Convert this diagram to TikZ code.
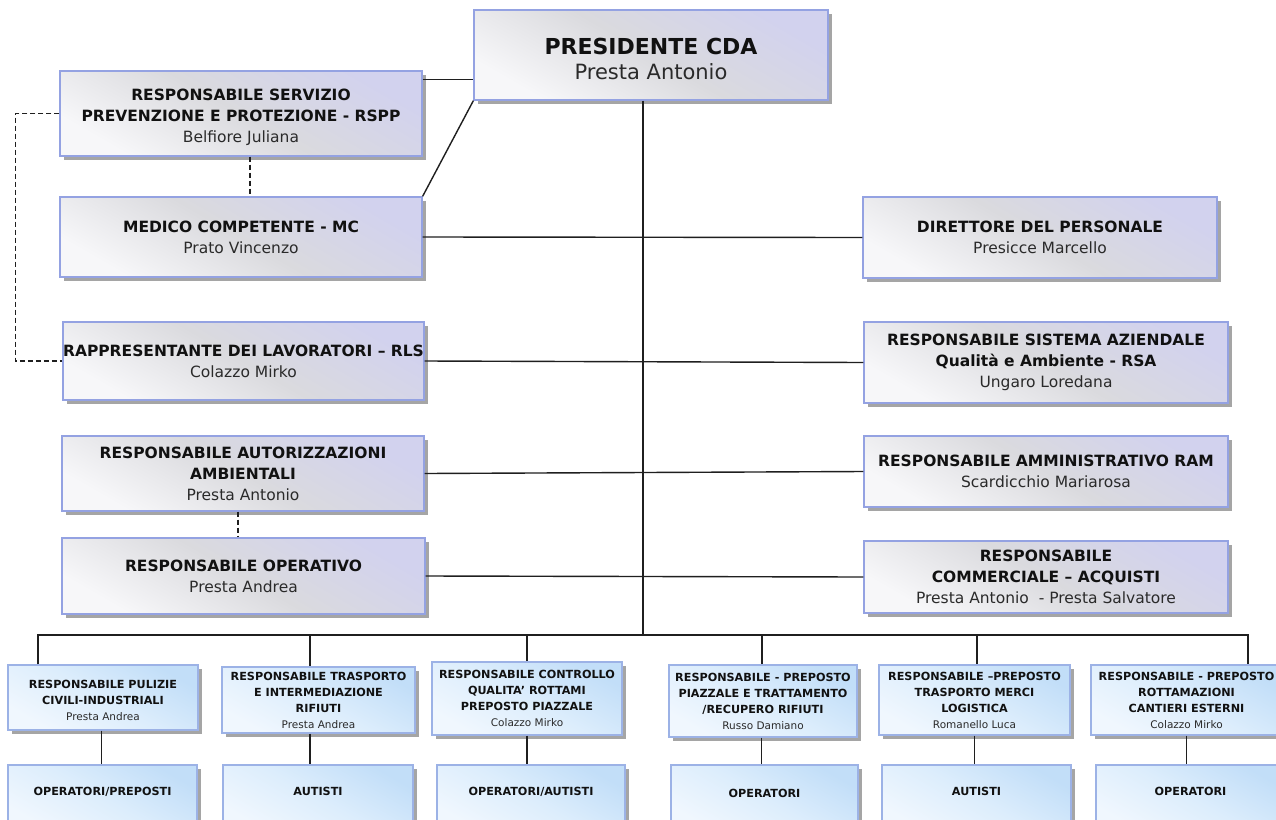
\documentclass[tikz,border=0pt]{standalone}
\usepackage{fontspec}
\setmainfont{DejaVu Sans}
\usetikzlibrary{shadows,calc}
\definecolor{lav}{HTML}{D2D2EE}
\definecolor{midg}{HTML}{DADADE}
\definecolor{lite}{HTML}{F7F7F9}
\definecolor{bord}{HTML}{94A2E2}
\definecolor{blueA}{HTML}{C2DEF8}
\definecolor{blueB}{HTML}{DCEDFC}
\definecolor{blueC}{HTML}{F0F7FE}
\definecolor{bordb}{HTML}{9CB2E6}
\definecolor{txt}{HTML}{111111}
\definecolor{nametxt}{HTML}{2A2A2A}
\tikzset{
  topbox/.style={draw=bord, line width=1.2pt, top color=lav, bottom color=lite, middle color=midg,
    shading angle=-30, inner sep=0pt, align=center, text=txt,
    font=\fontsize{15.5}{21}\selectfont,
    drop shadow={shadow xshift=3.5pt, shadow yshift=-3.5pt, fill=black!50, opacity=0.7}},
  lowbox/.style={draw=bordb, line width=1.2pt, top color=blueA, bottom color=blueC, middle color=blueB,
    shading angle=-30, inner sep=0pt, align=center, text=txt,
    font=\fontsize{11.2}{16}\selectfont,
    drop shadow={shadow xshift=3.5pt, shadow yshift=-3.5pt, fill=black!50, opacity=0.7}},
  lowtxt/.style={anchor=center, font=\fontsize{11.2}{16}\selectfont\bfseries, text=txt, inner sep=0pt},
  conn/.style={line width=1.4pt, draw=black!88},
  dconn/.style={line width=1.4pt, draw=black!88, dash pattern=on 5pt off 3pt}
}
\newcommand{\nm}[1]{{\color{nametxt}#1}}
\newcommand{\snm}[1]{{\fontsize{10.5}{16}\selectfont\color{nametxt}#1}}
\begin{document}
\begin{tikzpicture}[x=1pt,y=-1pt]
\useasboundingbox (0,0) rectangle (1276,819);
\clip (0,0) rectangle (1276,819);
\fill[white] (0,0) rectangle (1276,819);

% top level boxes
\node[topbox, minimum width=354pt, minimum height=90pt, font=\fontsize{22}{25}\selectfont] (pres) at (651,55)
  {\rule{0pt}{24pt}\textbf{PRESIDENTE CDA}\\\nm{\fontsize{21}{25}\selectfont Presta Antonio}};
\node[topbox, minimum width=362pt, minimum height=85pt] (rspp) at (241,113.5)
  {\rule{0pt}{20pt}\textbf{RESPONSABILE SERVIZIO}\\\textbf{PREVENZIONE E PROTEZIONE - RSPP}\\\nm{Belfiore Juliana}};
\node[topbox, minimum width=362pt, minimum height=80pt] (mc) at (241,237)
  {\textbf{MEDICO COMPETENTE - MC}\\\nm{Prato Vincenzo}};
\node[topbox, minimum width=354pt, minimum height=81pt] (dir) at (1040,237.5)
  {\textbf{DIRETTORE DEL PERSONALE}\\\nm{Presicce Marcello}};
\node[topbox, minimum width=361pt, minimum height=78pt] (rls) at (243.5,361)
  {\makebox[0pt][c]{\textbf{RAPPRESENTANTE DEI LAVORATORI – RLS}}\\\nm{Colazzo Mirko}};
\node[topbox, minimum width=364pt, minimum height=81pt] (rsa) at (1046,362.5)
  {\textbf{RESPONSABILE SISTEMA AZIENDALE}\\\textbf{Qualità e Ambiente - RSA}\\\nm{Ungaro Loredana}};
\node[topbox, minimum width=362pt, minimum height=75pt] (aut) at (243,473.5)
  {\textbf{RESPONSABILE AUTORIZZAZIONI}\\\textbf{AMBIENTALI}\\\nm{Presta Antonio}};
\node[topbox, minimum width=364pt, minimum height=71pt] (ram) at (1046,471.5)
  {\textbf{RESPONSABILE AMMINISTRATIVO RAM}\\\nm{Scardicchio Mariarosa}};
\node[topbox, minimum width=363pt, minimum height=76pt] (op) at (243.5,576)
  {\textbf{RESPONSABILE OPERATIVO}\\\nm{Presta Andrea}};
\node[topbox, minimum width=364pt, minimum height=72pt] (com) at (1046,577)
  {\textbf{RESPONSABILE}\\\textbf{COMMERCIALE – ACQUISTI}\\\nm{Presta Antonio\ \ - Presta Salvatore}};

% bottom level boxes
\node[lowbox, minimum width=190pt, minimum height=65pt] (b1) at (103,697.5)
  {\rule{0pt}{14pt}\textbf{RESPONSABILE PULIZIE}\\\textbf{CIVILI-INDUSTRIALI}\\\snm{Presta Andrea}};
\node[lowbox, minimum width=193pt, minimum height=66pt] (b2) at (318.5,700)
  {\textbf{RESPONSABILE TRASPORTO}\\\textbf{E INTERMEDIAZIONE}\\\textbf{RIFIUTI}\\\snm{Presta Andrea}};
\node[lowbox, minimum width=190pt, minimum height=73pt] (b3) at (527,698.5)
  {\textbf{RESPONSABILE CONTROLLO}\\\textbf{QUALITA’ ROTTAMI}\\\textbf{PREPOSTO PIAZZALE}\\\snm{Colazzo Mirko}};
\node[lowbox, minimum width=188pt, minimum height=72pt] (b4) at (763,701)
  {\textbf{RESPONSABILE - PREPOSTO}\\\textbf{PIAZZALE E TRATTAMENTO}\\\textbf{/RECUPERO RIFIUTI}\\\snm{Russo Damiano}};
\node[lowbox, minimum width=191pt, minimum height=70pt] (b5) at (974.5,700)
  {\textbf{RESPONSABILE –PREPOSTO}\\\textbf{TRASPORTO MERCI}\\\textbf{LOGISTICA}\\\snm{Romanello Luca}};
\node[lowbox, minimum width=191pt, minimum height=70pt] (b6) at (1186.5,700)
  {\textbf{RESPONSABILE - PREPOSTO}\\\textbf{ROTTAMAZIONI}\\\textbf{CANTIERI ESTERNI}\\\snm{Colazzo Mirko}};

\node[lowbox, minimum width=189pt, minimum height=65pt] (l1) at (102.5,797.5) {};
\node[lowbox, minimum width=190pt, minimum height=65pt] (l2) at (318,797.5) {};
\node[lowbox, minimum width=188pt, minimum height=65pt] (l3) at (531,797.5) {};
\node[lowbox, minimum width=187pt, minimum height=65pt] (l4) at (764.5,797.5) {};
\node[lowbox, minimum width=189pt, minimum height=65pt] (l5) at (976.5,797.5) {};
\node[lowbox, minimum width=189pt, minimum height=65pt] (l6) at (1190.5,797.5) {};
\node[lowtxt] (t1) at ([yshift=-27pt]l1.north) {OPERATORI/PREPOSTI};
\node[lowtxt] (t2) at ([yshift=-27pt]l2.north) {AUTISTI};
\node[lowtxt] (t3) at ([yshift=-27pt]l3.north) {OPERATORI/AUTISTI};
\node[lowtxt] (t4) at ([yshift=-29pt]l4.north) {OPERATORI};
\node[lowtxt] (t5) at ([yshift=-27pt]l5.north) {AUTISTI};
\node[lowtxt] (t6) at ([yshift=-27pt]l6.north) {OPERATORI};

% connectors top
\draw[conn] ([yshift=-9pt]rspp.north east) -- ([yshift=-9pt]rspp.north east -| pres.west);
\draw[conn] (pres.south west) -- (mc.north east);
\coordinate (bus) at (643,635);
\draw[conn] ([xshift=-8pt]pres.south) -- (bus);
\draw[conn] (mc.east) -- (dir.west);
\draw[conn] (rls.east) -- (rsa.west);
\draw[conn] (aut.east) -- (ram.west);
\draw[conn] (op.east) -- (com.west);
\draw[dconn] ([xshift=9pt]rspp.south) -- ([xshift=9pt]rspp.south |- mc.north);
\draw[dconn] (rspp.west) -- ++(-44,0) |- (rls.west);
\draw[dconn] ([xshift=-5pt]aut.south) -- ([xshift=-5pt]aut.south |- op.north);

% bus
\coordinate (d1) at (38,635);
\coordinate (d2) at (310,635);
\coordinate (d3) at (527,635);
\coordinate (d4) at (762,635);
\coordinate (d5) at (977,635);
\coordinate (d6) at (1248,635);
\draw[conn] (d1 |- b1.north) -- (d1) -- (d6) -- (d6 |- b6.north);
\draw[conn] (d2) -- (d2 |- b2.north);
\draw[conn] (d3) -- (d3 |- b3.north);
\draw[conn] (d4) -- (d4 |- b4.north);
\draw[conn] (d5) -- (d5 |- b5.north);

% lower connectors
\draw[conn] ([xshift=-1.5pt]b1.south) -- ([xshift=-1.5pt]b1.south |- l1.north);
\draw[conn] ([xshift=-8.5pt]b2.south) -- ([xshift=-8.5pt]b2.south |- l2.north);
\draw[conn] (b3.south) -- (b3.south |- l3.north);
\draw[conn] ([xshift=-1.5pt]b4.south) -- ([xshift=-1.5pt]b4.south |- l4.north);
\draw[conn] (b5.south) -- (b5.south |- l5.north);
\draw[conn] (b6.south) -- (b6.south |- l6.north);
\end{tikzpicture}
\end{document}
